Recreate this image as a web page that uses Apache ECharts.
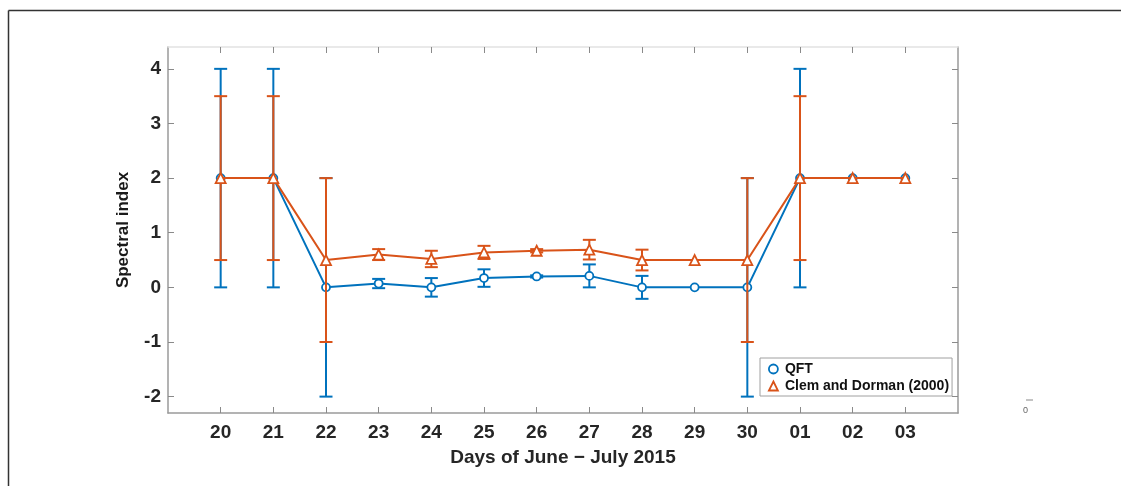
<!DOCTYPE html>
<html>
<head>
<meta charset="utf-8">
<script src="https://cdn.jsdelivr.net/npm/echarts@6/dist/echarts.min.js"></script>
<style>
html,body{margin:0;padding:0;background:#fff;}
#chart{width:1121px;height:486px;}
</style>
</head>
<body>
<div id="chart"></div>
<script>
// ---- data ----
const days = ['20','21','22','23','24','25','26','27','28','29','30','01','02','03'];
const qftValues = [2, 2, 0, 0.07, 0.0, 0.17, 0.2, 0.21, 0.0, 0, 0, 2, 2, 2];
const qftErrors = [2, 2, 2, 0.085, 0.17, 0.16, 0.02, 0.21, 0.21, 0, 2, 2, 0, 0];
const clemValues = [2, 2, 0.5, 0.6, 0.52, 0.64, 0.67, 0.69, 0.5, 0.5, 0.5, 2, 2, 2];
const clemErrors = [1.5, 1.5, 1.5, 0.1, 0.15, 0.12, 0.03, 0.18, 0.19, 0, 1.5, 1.5, 0, 0];
const yTicks = [-2, -1, 0, 1, 2, 3, 4];

const BLUE = '#0072BD';
const ORANGE = '#D95319';
const FONT = 'Liberation Sans';

function errData(vals, errs) {
  const out = [];
  vals.forEach((v, i) => { if (errs[i] > 0) out.push([i, v - errs[i], v + errs[i]]); });
  return out;
}
function lineData(vals) { return vals.map((v, i) => [i, v]); }

function errRender(color) {
  return function (params, api) {
    const x = api.value(0);
    const lo = api.coord([x, api.value(1)]);
    const hi = api.coord([x, api.value(2)]);
    const hw = 6.5;
    const style = { stroke: color, lineWidth: 2, fill: null };
    return {
      type: 'group',
      children: [
        { type: 'line', shape: { x1: lo[0], y1: lo[1], x2: hi[0], y2: hi[1] }, style: style },
        { type: 'line', shape: { x1: lo[0] - hw, y1: lo[1], x2: lo[0] + hw, y2: lo[1] }, style: style },
        { type: 'line', shape: { x1: hi[0] - hw, y1: hi[1], x2: hi[0] + hw, y2: hi[1] }, style: style }
      ]
    };
  };
}

const xIdx = days.map((d, i) => i);
const chart = echarts.init(document.getElementById('chart'), null, { renderer: 'canvas' });
chart.setOption({
  animation: false,
  backgroundColor: '#fff',
  textStyle: { fontFamily: FONT },
  grid: { left: 168, right: 163, top: 47, bottom: 73 },
  xAxis: [{
    type: 'value', min: -1, max: 14, interval: 1, position: 'bottom',
    name: 'Days of June \u2212 July 2015', nameLocation: 'middle', nameGap: 35,
    nameTextStyle: { fontFamily: FONT, fontWeight: 'bold', fontSize: 19, color: '#262626' },
    axisLine: { show: true, onZero: false, lineStyle: { color: '#9a9a9a', width: 1.5 } },
    axisTick: { show: true, inside: true, length: 6, customValues: xIdx, lineStyle: { color: '#8a8a8a' } },
    axisLabel: { show: true, margin: 10, customValues: xIdx, fontFamily: FONT, fontWeight: 'bold', fontSize: 19, color: '#262626',
      formatter: v => days[Math.round(v)] },
    splitLine: { show: false }
  }, {
    type: 'value', min: -1, max: 14, interval: 1, position: 'top',
    axisLine: { show: true, onZero: false, lineStyle: { color: '#e2e2e2', width: 1.5 } },
    axisTick: { show: true, inside: true, length: 6, customValues: xIdx, lineStyle: { color: '#8a8a8a' } },
    axisLabel: { show: false },
    splitLine: { show: false }
  }],
  yAxis: [{
    type: 'value', min: -2.3, max: 4.4, position: 'left',
    name: 'Spectral index', nameLocation: 'middle', nameGap: 36, nameRotate: 90,
    nameTextStyle: { fontFamily: FONT, fontWeight: 'bold', fontSize: 17, color: '#1a1a1a' },
    axisLine: { show: true, onZero: false, lineStyle: { color: '#9a9a9a', width: 1.5 } },
    axisTick: { show: true, inside: true, length: 6, customValues: yTicks, lineStyle: { color: '#8a8a8a' } },
    axisLabel: { show: true, margin: 7, customValues: yTicks, fontFamily: FONT, fontWeight: 'bold', fontSize: 19, color: '#262626' },
    splitLine: { show: false }
  }, {
    type: 'value', min: -2.3, max: 4.4, position: 'right',
    axisLine: { show: true, onZero: false, lineStyle: { color: '#9a9a9a', width: 1.5 } },
    axisTick: { show: true, inside: true, length: 6, customValues: yTicks, lineStyle: { color: '#8a8a8a' } },
    axisLabel: { show: false },
    splitLine: { show: false }
  }],
  legend: {
    orient: 'vertical', left: 760, top: 358,
    padding: [4, 3, 3, 8], itemGap: 3, itemWidth: 9, itemHeight: 9,
    borderColor: '#a0a0a0', borderWidth: 1, backgroundColor: '#fff',
    textStyle: { fontFamily: FONT, fontWeight: 'bold', fontSize: 14, color: '#111', padding: [0, 0, 0, 2] },
    data: [
      { name: 'QFT', icon: 'circle', itemStyle: { color: '#fff', borderColor: BLUE, borderWidth: 1.8 } },
      { name: 'Clem and Dorman (2000)', icon: 'triangle', itemStyle: { color: '#fff', borderColor: ORANGE, borderWidth: 1.8 } }
    ]
  },
  graphic: [
    { type: 'line', shape: { x1: 8.5, y1: 10.5, x2: 1121, y2: 10.5 }, style: { stroke: '#333', lineWidth: 1.5 } },
    { type: 'line', shape: { x1: 8.5, y1: 10.5, x2: 8.5, y2: 486 }, style: { stroke: '#333', lineWidth: 1.5 } },
    { type: 'line', shape: { x1: 1026, y1: 400, x2: 1033, y2: 400 }, style: { stroke: '#888', lineWidth: 1 } },
    { type: 'text', x: 1025.5, y: 411, style: { text: '0', fontFamily: FONT, fontSize: 9, fill: '#666', align: 'center', verticalAlign: 'middle' } }
  ],
  series: [
    {
      name: 'QFT', type: 'line', data: lineData(qftValues), z: 3,
      symbol: 'circle', symbolSize: 8, showSymbol: true,
      lineStyle: { color: BLUE, width: 2 },
      itemStyle: { color: '#fff', borderColor: BLUE, borderWidth: 1.8 }
    },
    {
      name: 'QFT err', type: 'custom', data: errData(qftValues, qftErrors), z: 3,
      renderItem: errRender(BLUE)
    },
    {
      name: 'Clem and Dorman (2000)', type: 'line', data: lineData(clemValues), z: 4,
      symbol: 'triangle', symbolSize: 10, showSymbol: true,
      lineStyle: { color: ORANGE, width: 2 },
      itemStyle: { color: '#fff', borderColor: ORANGE, borderWidth: 1.8 }
    },
    {
      name: 'Clem err', type: 'custom', data: errData(clemValues, clemErrors), z: 4,
      renderItem: errRender(ORANGE)
    }
  ]
});
</script>
</body>
</html>
